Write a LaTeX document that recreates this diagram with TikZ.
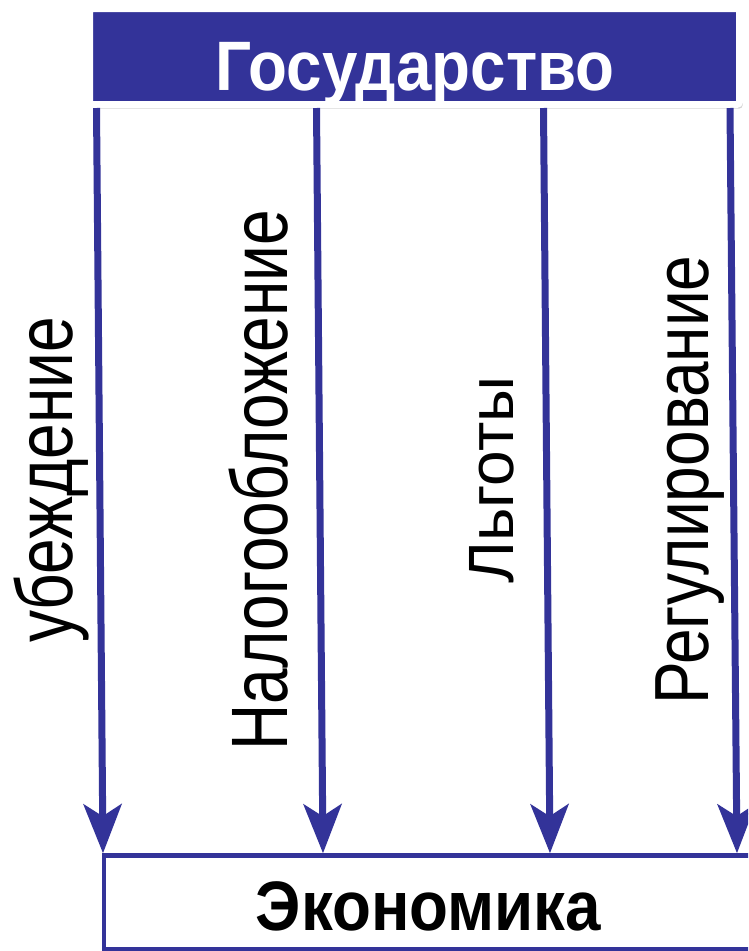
\documentclass[tikz,border=0pt]{standalone}
\usepackage{fontspec}
\setmainfont{Liberation Sans}
\usetikzlibrary{arrows.meta,shadows}
\definecolor{govblue}{HTML}{333399}
\tikzset{
	govbox/.style={draw=white, line width=7pt, fill=govblue, rounded corners=3pt, inner sep=0pt,
		minimum width=650pt, minimum height=96pt,
		drop shadow={shadow xshift=3pt, shadow yshift=-4pt, opacity=0.35}},
	econbox/.style={draw=govblue, line width=4.5pt, fill=white, inner sep=0pt,
		minimum width=680pt, minimum height=94pt},
	boxname/.style={anchor=base, inner sep=0pt, font=\fontsize{70}{80}\selectfont\bfseries},
	lever/.style={draw=govblue, line width=7pt, -{Stealth[length=49pt, width=38pt, inset=12pt]}},
	leverlabel/.style={rotate=90, anchor=base, inner sep=0pt, font=\fontsize{64}{70}\selectfont}
}
\begin{document}
\begin{tikzpicture}[x=1pt, y=-1pt]
\useasboundingbox (0,0) rectangle (748,951);
\clip (0,0) rectangle (748,951);
\node [govbox] (state) at (414.5,56.5) {};
\node [econbox] (econ) at (444,902.5) {};
\node [boxname, text=white] (statename) at (415,90) {\scalebox{0.91}[1]{Государство}};
\node [boxname] (econname) at (428.5,930) {\scalebox{0.91}[1]{Экономика}};
%
\foreach \a/\b [count=\i] in {96.5/103, 316.5/323, 543.5/550, 730/737}{
	\coordinate (from\i) at (\a,0);
	\coordinate (to\i) at (\b,0);
	\draw [lever] (from\i |- state.south) -- (to\i |- econ.north);
}
%
\node [leverlabel] (persuasion) at (72,480) {\scalebox{1}[1.25]{убеждение}};
\node [leverlabel] (taxation) at (287,480) {\scalebox{1}[1.25]{Налогообложение}};
\node [leverlabel] (benefits) at (513,480) {Льготы};
\node [leverlabel] (regulation) at (708,480) {\scalebox{1}[1.2]{Регулирование}};
\end{tikzpicture}
\end{document}
